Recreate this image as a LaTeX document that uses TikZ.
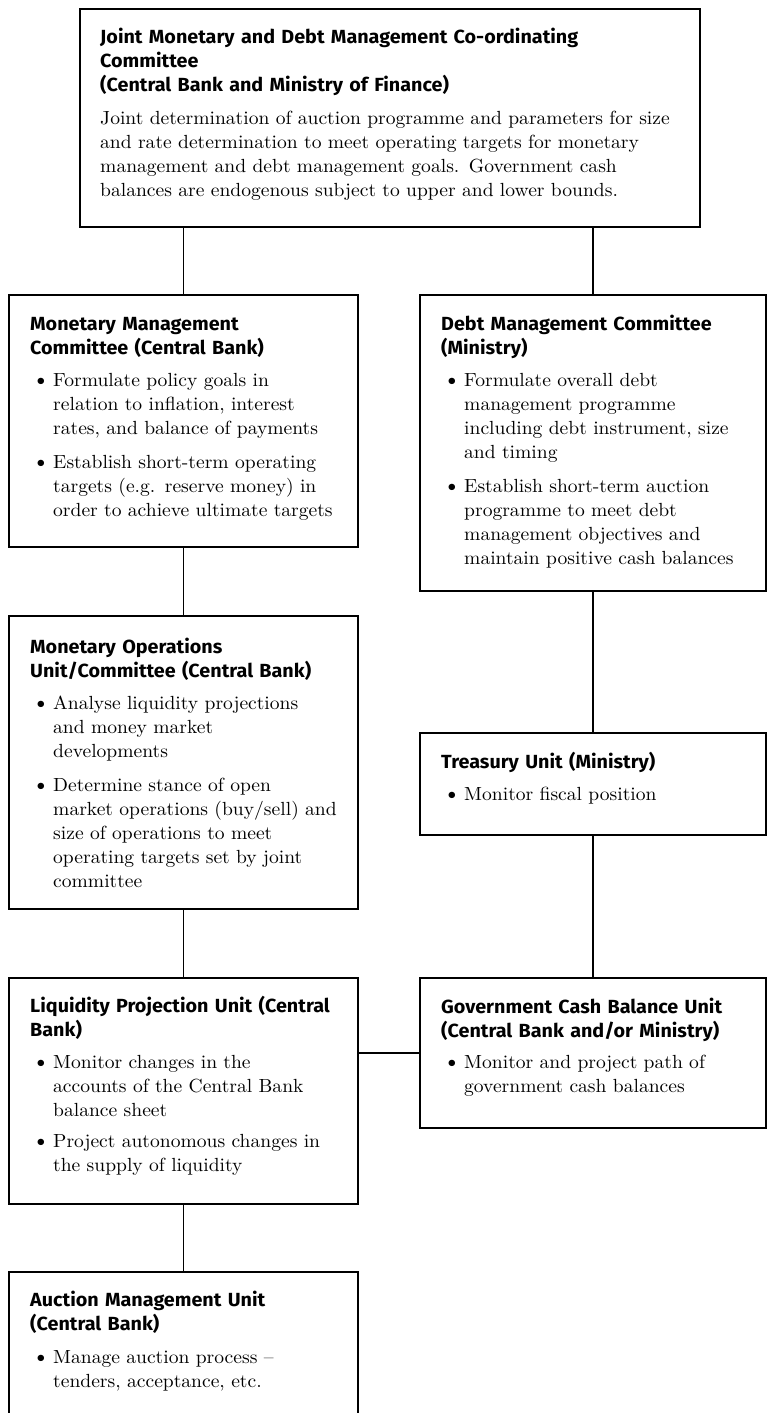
\documentclass[tikz,border=0pt]{standalone}
\usepackage{fontspec}
\setmainfont{lmroman10-regular.otf}[FakeStretch=1.03]
\newfontfamily\hfont{Fira Sans}[FakeStretch=1.04]
\newcommand\hd[1]{{\hfont\bfseries\fontsize{19}{24}\selectfont #1}}
\newcommand\bul{\makebox[23pt][l]{\hspace*{2pt}{\fontsize{22}{24}\selectfont\textbullet}}}
\newcommand\ind{\hspace*{23pt}}
\begin{document}
\begin{tikzpicture}[x=1pt,y=-1pt,
  box/.style={draw, line width=1.2pt, inner sep=0pt, outer sep=0pt, anchor=north west},
  txt/.style={anchor=base west, inner sep=0pt, align=left, text width=600pt,
              font=\fontsize{19}{24}\selectfont},
  link/.style={line width=1.2pt}]
\useasboundingbox (0,0) rectangle (767,1413);
\clip (0,0) rectangle (767,1413);
% boxes
\node[box, minimum width=620pt, minimum height=218pt] (jt) at (80,9) {};
\node[box, minimum width=349pt, minimum height=252pt] (mm) at (9,295) {};
\node[box, minimum width=346pt, minimum height=296pt] (dm) at (420,295) {};
\node[box, minimum width=349pt, minimum height=293pt] (mo) at (9,616) {};
\node[box, minimum width=346pt, minimum height=102pt] (tu) at (420,733) {};
\node[box, minimum width=349pt, minimum height=226pt] (lp) at (9,978) {};
\node[box, minimum width=346pt, minimum height=150pt] (gc) at (420,978) {};
\node[box, minimum width=349pt, minimum height=180pt] (am) at (9,1272) {};
% texts
\node[txt] (jtT) at (100,44) {\hd{Joint Monetary and Debt Management Co-ordinating\\Committee\\(Central Bank and Ministry of Finance)}\\[9pt]Joint determination of auction programme and parameters for size\\and rate determination to meet operating targets for monetary\\management and debt management goals. Government cash\\balances are endogenous subject to upper and lower bounds.};
\node[txt] (mmT) at (30,330) {\hd{Monetary Management\\Committee (Central Bank)}\\[8pt]\bul Formulate policy goals in\\\ind relation to inflation, interest\\\ind rates, and balance of payments\\[10pt]\bul Establish short-term operating\\\ind targets (e.g. reserve money) in\\\ind order to achieve ultimate targets};
\node[txt] (dmT) at (441,330) {\hd{Debt Management Committee\\(Ministry)}\\[8pt]\bul Formulate overall debt\\\ind management programme\\\ind including debt instrument, size\\\ind and timing\\[10pt]\bul Establish short-term auction\\\ind programme to meet debt\\\ind management objectives and\\\ind maintain positive cash balances};
\node[txt] (moT) at (30,653) {\hd{Monetary Operations\\Unit/Committee (Central Bank)}\\[8pt]\bul Analyse liquidity projections\\\ind and money market\\\ind developments\\[10pt]\bul Determine stance of open\\\ind market operations (buy/sell) and\\\ind size of operations to meet\\\ind operating targets set by joint\\\ind committee};
\node[txt] (tuT) at (441,768) {\hd{Treasury Unit (Ministry)}\\[8pt]\bul Monitor fiscal position};
\node[txt] (lpT) at (30,1012) {\hd{Liquidity Projection Unit (Central\\Bank)}\\[8pt]\bul Monitor changes in the\\\ind accounts of the Central Bank\\\ind balance sheet\\[7pt]\bul Project autonomous changes in\\\ind the supply of liquidity};
\node[txt] (gcT) at (441,1013) {\hd{Government Cash Balance Unit\\(Central Bank and/or Ministry)}\\[7pt]\bul Monitor and project path of\\\ind government cash balances};
\node[txt] (amT) at (30,1306) {\hd{Auction Management Unit\\(Central Bank)}\\[9pt]\bul Manage auction process --\\\ind tenders, acceptance, etc.};
% connectors
\draw[link] (mm.north) -- (mm.north |- jt.south);
\draw[link] (dm.north) -- (dm.north |- jt.south);
\draw[link] (mm.south) -- (mo.north);
\draw[link] (dm.south) -- (tu.north);
\draw[link] (tu.south) -- (gc.north);
\draw[link] (mo.south) -- (lp.north);
\draw[link] (lp.south) -- (am.north);
\draw[link] (gc.west) -- (gc.west -| lp.east);
\end{tikzpicture}
\end{document}
